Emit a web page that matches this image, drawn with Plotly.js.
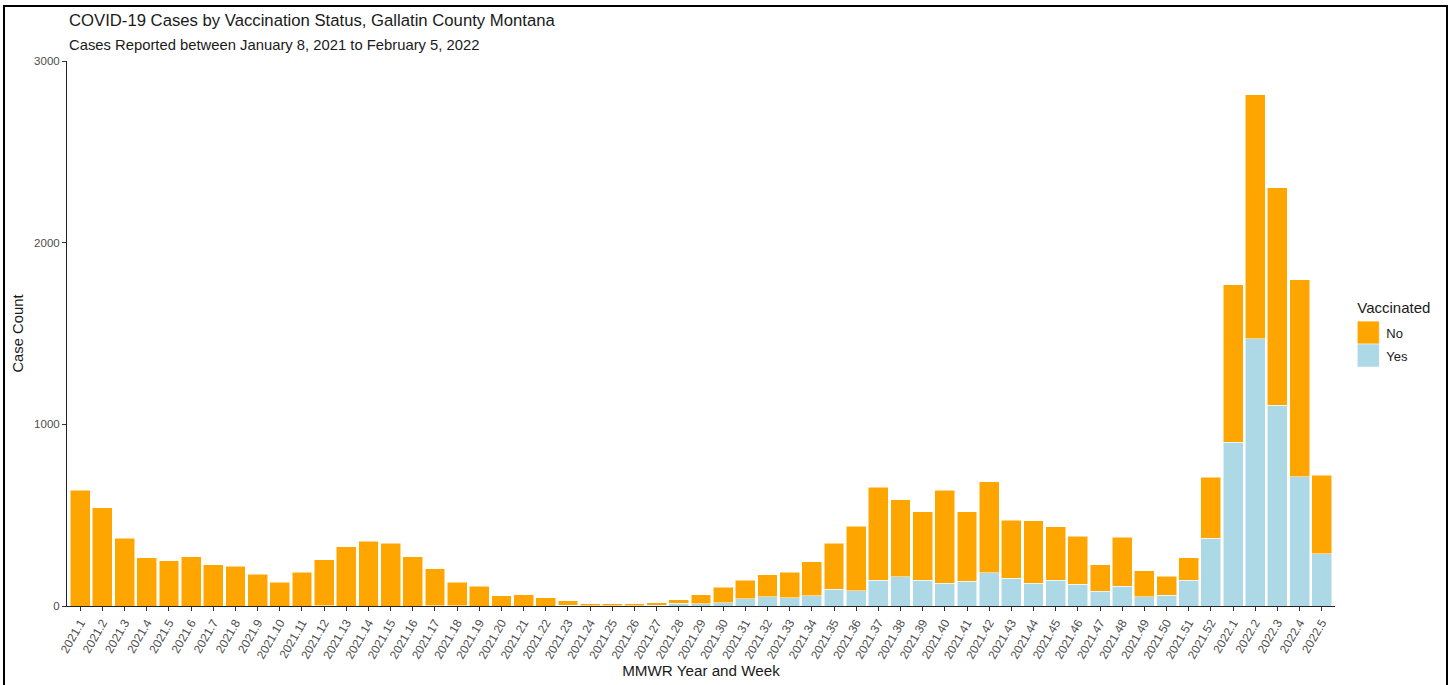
<!DOCTYPE html>
<html>
<head>
<meta charset="utf-8">
<script src="https://cdn.plot.ly/plotly-3.0.1.min.js"></script>
<style>
  html, body { margin: 0; padding: 0; background: #fff; overflow: hidden; }
  #chart { position: absolute; left: 0; top: 0; width: 1451px; height: 685px; }
  #frame { position: absolute; left: 3px; top: 5px; width: 1445px; height: 800px;
           box-sizing: border-box; border: 2.5px solid #000; pointer-events: none; }
</style>
</head>
<body>
<div id="chart"></div>
<div id="frame"></div>
<script>
const weeks = [
  "2021.1","2021.2","2021.3","2021.4","2021.5","2021.6","2021.7","2021.8","2021.9","2021.10",
  "2021.11","2021.12","2021.13","2021.14","2021.15","2021.16","2021.17","2021.18","2021.19","2021.20",
  "2021.21","2021.22","2021.23","2021.24","2021.25","2021.26","2021.27","2021.28","2021.29","2021.30",
  "2021.31","2021.32","2021.33","2021.34","2021.35","2021.36","2021.37","2021.38","2021.39","2021.40",
  "2021.41","2021.42","2021.43","2021.44","2021.45","2021.46","2021.47","2021.48","2021.49","2021.50",
  "2021.51","2021.52","2022.1","2022.2","2022.3","2022.4","2022.5"
];
const vaccinatedYes = [
  0,0,0,0,0,0,0,0,0,0,
  0,2,0,0,0,0,2,2,0,0,
  0,0,4,1,1,1,3,14,13,18,
  40,51,46,57,92,84,143,160,143,125,
  136,182,154,125,141,119,81,108,51,59,
  141,372,901,1471,1104,711,289
];
const vaccinatedNo = [
  636,541,372,266,249,271,226,220,176,130,
  187,253,326,356,345,271,202,128,108,57,
  62,46,25,12,12,11,15,21,49,85,
  103,120,141,187,253,356,512,425,376,513,
  383,501,319,343,294,264,145,270,142,104,
  125,338,868,1344,1199,1085,432
];
const yTicks = [0, 1000, 2000, 3000];

const barLine = { color: "rgba(255,255,255,0.85)", width: 0.6 };
const traces = [
  { type: "bar", name: "Yes", x: weeks, y: vaccinatedYes,
    marker: { color: "#ADD8E6", line: barLine } },
  { type: "bar", name: "No", x: weeks, y: vaccinatedNo,
    marker: { color: "#FFA500", line: barLine } }
];

const font = "Liberation Sans, Arial, sans-serif";
const layout = {
  width: 1451, height: 685,
  paper_bgcolor: "#ffffff", plot_bgcolor: "#ffffff",
  barmode: "stack", bargap: 0.1,
  font: { family: font, color: "#1a1a1a" },
  margin: { l: 67, r: 116, t: 61, b: 79, pad: 0 },
  showlegend: true,
  legend: {
    title: { text: "Vaccinated", font: { size: 15, color: "#1a1a1a" } },
    traceorder: "reversed",
    x: 1.016, xanchor: "left", y: 0.574, yanchor: "top",
    font: { size: 13, color: "#1a1a1a" },
    bgcolor: "rgba(0,0,0,0)", tracegroupgap: 0, itemwidth: 30
  },
  xaxis: {
    type: "category", range: [-0.6, weeks.length - 0.4],
    showgrid: false, zeroline: false,
    showline: true, linecolor: "#222", linewidth: 1,
    ticks: "outside", ticklen: 4, tickcolor: "#333", tickwidth: 1,
    tickangle: -60, tickfont: { size: 12, color: "#4D4D4D" },
    automargin: false,
    title: { text: "MMWR Year and Week", font: { size: 15.2, color: "#1a1a1a" }, standoff: 4 }
  },
  yaxis: {
    range: [0, 3000], tickvals: yTicks, ticktext: yTicks.map(String),
    showgrid: false, zeroline: false,
    showline: true, linecolor: "#222", linewidth: 1,
    ticks: "outside", ticklen: 4, tickcolor: "#333", tickwidth: 1,
    tickfont: { size: 11.5, color: "#4D4D4D" },
    automargin: false,
    title: { text: "Case Count", font: { size: 14.8, color: "#1a1a1a" }, standoff: 6 }
  },
  annotations: [
    { text: "COVID-19 Cases by Vaccination Status, Gallatin County Montana",
      xref: "paper", yref: "paper", x: 0, y: 1, xshift: 0, yshift: 41,
      xanchor: "left", yanchor: "middle", showarrow: false,
      font: { size: 16.7, color: "#1a1a1a", family: font } },
    { text: "Cases Reported between January 8, 2021 to February 5, 2022",
      xref: "paper", yref: "paper", x: 0, y: 1, yshift: 16,
      xanchor: "left", yanchor: "middle", showarrow: false,
      font: { size: 14.8, color: "#1a1a1a", family: font } }
  ]
};

Plotly.newPlot("chart", traces, layout, { displayModeBar: false, staticPlot: true }).then(function () {
  var root = document.getElementById("chart");
  root.querySelectorAll(".legend .scrollbox").forEach(function (s) { s.removeAttribute("clip-path"); });
  root.querySelectorAll(".legendpoints path").forEach(function (p) {
    p.setAttribute("d", "M4,11.5H-18V-11.5H4Z");
  });
  root.querySelectorAll(".legendtext").forEach(function (t) {
    var x = parseFloat(t.getAttribute("x") || "0");
    t.setAttribute("x", x - 9);
  });
  var groups = root.querySelectorAll(".legend .traces");
  groups.forEach(function (g, i) {
    var tr = g.getAttribute("transform") || "";
    var m = tr.match(/translate\(([-\d.e]+)[ ,]*([-\d.e]+)?\)/);
    var tx = m ? parseFloat(m[1]) : 0, ty = m && m[2] ? parseFloat(m[2]) : 0;
    g.setAttribute("transform", "translate(" + tx + "," + (ty + 5 + 3 * i) + ")");
  });
});
</script>
</body>
</html>
